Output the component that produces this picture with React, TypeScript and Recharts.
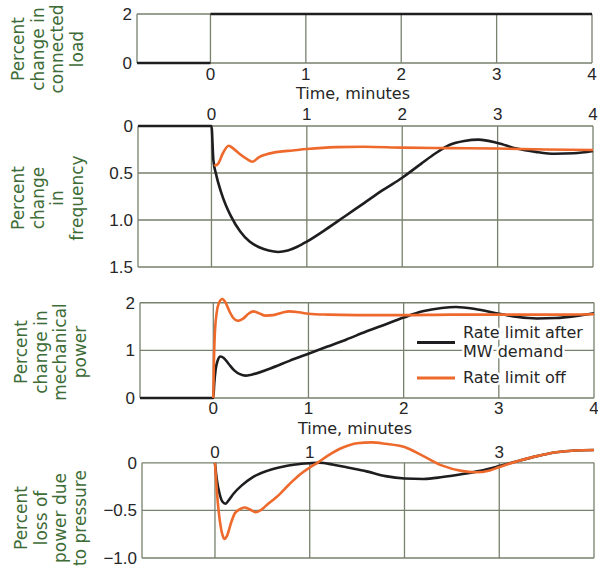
import React from "react";
import { Legend, Line, LineChart, ReferenceLine, XAxis, YAxis } from "recharts";

type Pt = [number, number];

// time axis (minutes)
const startMinute = -0.77;
const endMinute = 4;
const gridMinutes = [0, 1, 2, 3, 4];
const pressureTickMinutes = [0, 1, 3];

// percent change in connected load
const loadTicks = [0, 2];
const loadBefore: Pt[] = [[-0.77, 0], [0, 0]];
const loadAfter: Pt[] = [[0, 2], [4, 2]];

// percent change in frequency (drawn downward)
const freqTicks = [0, 0.5, 1, 1.5];
const freqRateLimited: Pt[] = [
  [-0.77, 0], [0, 0], [0.02, 0.36], [0.05, 0.52], [0.1, 0.7], [0.15, 0.84], [0.2, 0.95],
  [0.3, 1.12], [0.4, 1.23], [0.5, 1.29], [0.6, 1.325], [0.7, 1.34], [0.8, 1.325], [0.9, 1.285],
  [1.0, 1.23], [1.2, 1.1], [1.4, 0.96], [1.6, 0.82], [1.8, 0.68], [2.0, 0.55], [2.2, 0.4],
  [2.35, 0.29], [2.5, 0.2], [2.65, 0.16], [2.8, 0.145], [3.0, 0.18], [3.2, 0.24], [3.4, 0.275],
  [3.6, 0.295], [3.8, 0.29], [4.0, 0.265],
];
const freqRateOff: Pt[] = [
  [0.03, 0.41], [0.045, 0.42], [0.07, 0.4], [0.12, 0.29], [0.18, 0.21], [0.23, 0.24],
  [0.3, 0.3], [0.37, 0.35], [0.43, 0.38], [0.5, 0.33], [0.58, 0.3], [0.7, 0.275], [0.85, 0.26],
  [1.0, 0.245], [1.3, 0.225], [1.6, 0.22], [2.0, 0.23], [2.5, 0.235], [3.0, 0.24], [3.5, 0.25],
  [4.0, 0.255],
];

// percent change in mechanical power
const powerTicks = [0, 1, 2];
const powerRateLimited: Pt[] = [
  [-0.77, 0], [0, 0], [0.01, 0.3], [0.025, 0.6], [0.045, 0.78], [0.075, 0.87], [0.11, 0.84],
  [0.16, 0.72], [0.22, 0.58], [0.28, 0.5], [0.34, 0.47], [0.4, 0.49], [0.6, 0.62], [0.8, 0.78],
  [1.0, 0.93], [1.2, 1.08], [1.4, 1.23], [1.6, 1.39], [1.8, 1.54], [2.0, 1.69], [2.2, 1.82],
  [2.4, 1.89], [2.55, 1.91], [2.75, 1.87], [3.0, 1.77], [3.2, 1.7], [3.4, 1.67], [3.6, 1.68],
  [3.8, 1.72], [4.0, 1.78],
];
const powerRateOff: Pt[] = [
  [0, 0], [0.005, 0.6], [0.015, 1.3], [0.035, 1.78], [0.06, 2.0], [0.095, 2.08], [0.13, 2.0],
  [0.17, 1.82], [0.21, 1.68], [0.26, 1.62], [0.31, 1.66], [0.37, 1.77], [0.42, 1.82],
  [0.48, 1.78], [0.55, 1.73], [0.63, 1.74], [0.72, 1.79], [0.8, 1.82], [0.9, 1.8], [1.0, 1.77],
  [1.2, 1.75], [1.5, 1.74], [2.0, 1.74], [2.5, 1.75], [3.0, 1.75], [3.5, 1.75], [4.0, 1.76],
];

// percent loss of power due to pressure
const pressureTicks = [0, -0.5, -1];
const pressureRateLimited: Pt[] = [
  [0, 0], [0.02, -0.18], [0.05, -0.33], [0.08, -0.41], [0.11, -0.43], [0.14, -0.4], [0.2, -0.32],
  [0.28, -0.24], [0.4, -0.15], [0.55, -0.085], [0.7, -0.045], [0.85, -0.018], [1.0, -0.005],
  [1.1, 0], [1.25, -0.02], [1.4, -0.05], [1.6, -0.09], [1.8, -0.14], [2.0, -0.165], [2.2, -0.17],
  [2.4, -0.15], [2.6, -0.12], [2.8, -0.085], [3.0, -0.035], [3.2, 0.02], [3.4, 0.07],
  [3.6, 0.11], [3.8, 0.13], [4.0, 0.135],
];
const pressureRateOff: Pt[] = [
  [0, 0], [0.02, -0.3], [0.05, -0.6], [0.08, -0.76], [0.1, -0.8], [0.13, -0.76], [0.17, -0.63],
  [0.21, -0.53], [0.26, -0.49], [0.31, -0.47], [0.37, -0.49], [0.43, -0.52], [0.48, -0.5],
  [0.55, -0.44], [0.65, -0.36], [0.78, -0.23], [0.9, -0.12], [1.0, -0.05], [1.08, 0],
  [1.2, 0.08], [1.35, 0.16], [1.5, 0.205], [1.65, 0.215], [1.8, 0.2], [2.0, 0.165], [2.2, 0.07],
  [2.4, -0.03], [2.6, -0.085], [2.75, -0.1], [2.9, -0.08], [3.0, -0.045], [3.2, 0.02],
  [3.4, 0.07], [3.6, 0.11], [3.8, 0.13], [4.0, 0.135],
];

const seriesNames = ["Rate limit after MW demand", "Rate limit off"];
const timeCaption = "Time, minutes";
const loadTitle = ["Percent", "change in", "connected", "load"];
const freqTitle = ["Percent", "change", "in", "frequency"];
const powerTitle = ["Percent", "change in", "mechanical", "power"];
const pressureTitle = ["Percent", "loss of", "power due", "to pressure"];

const BLACK = "#1e1d20";
const ORANGE = "#ee6a2c";
const GRID = "#77816c";
const TITLE = "#3e6c37";
const INK = "#262626";
const numFont = "Liberation Sans, Arial, sans-serif";
const textFont = "DejaVu Sans, sans-serif";

const toRows = (pts: Pt[]) => pts.map(([t, v]) => ({ t, v }));

function MinuteTick(props: any) {
  const { x, payload, baseline } = props;
  return (
    <text x={x} y={baseline} textAnchor="middle" fill={INK} fontSize={17} fontFamily={numFont}>
      {payload.value}
    </text>
  );
}

function AxisTitle({ lines, centerX, centerY }: any) {
  return (
    <text
      transform={`rotate(-90 ${centerX} ${centerY})`}
      fill={TITLE}
      fontSize={17}
      fontFamily={textFont}
      textAnchor="middle"
    >
      {lines.map((line: string, i: number) => (
        <tspan key={i} x={centerX} y={centerY + 6 + i * 19.5}>
          {line}
        </tspan>
      ))}
    </text>
  );
}

function Caption({ text, centerX, baseline }: any) {
  return (
    <text x={centerX} y={baseline} textAnchor="middle" fill={INK} fontSize={16} fontFamily={textFont}>
      {text}
    </text>
  );
}

function wrapName(name: string) {
  if (name.length <= 16) return [name];
  const cut = name.lastIndexOf(" ", 17);
  return [name.slice(0, cut), name.slice(cut + 1)];
}

function LegendBox({ payload }: any) {
  let rowTop = 0;
  const items = (payload || []).map((item: any, i: number) => {
    const lines = wrapName(String(item.value));
    const top = rowTop;
    rowTop += lines.length * 19 + 7;
    const swatchY = top + 8 + ((lines.length - 1) * 19) / 2;
    return (
      <g key={i}>
        <line x1={0} x2={38} y1={swatchY} y2={swatchY} stroke={item.color} strokeWidth={3} />
        {lines.map((line, k) => (
          <text
            key={k}
            x={46}
            y={top + 13 + k * 19}
            fill={INK}
            fontSize={16}
            fontFamily={textFont}
            stroke="#fff"
            strokeWidth={5}
            paintOrder="stroke"
          >
            {line}
          </text>
        ))}
      </g>
    );
  });
  return (
    <svg width={180} height={68} style={{ overflow: "visible", display: "block" }}>
      {items}
    </svg>
  );
}

type Series = { data: Pt[]; color: string; name: string };

function Panel(props: {
  top: number;
  height: number;
  margin: { top: number; right: number; bottom: number; left: number };
  yWidth: number;
  xOrientation: "top" | "bottom";
  xHeight: number;
  tickBaseline: number;
  xTicks: number[];
  yDomain: [number, number];
  yTicks: number[];
  yReversed?: boolean;
  yFormat: (v: number) => string;
  box: [number, number];
  title: string[];
  titleX: number;
  titleY: number;
  caption?: { x: number; baseline: number };
  series: Series[];
  legend?: { left: number; top: number };
}) {
  const p = props;
  const edges = [startMinute, ...gridMinutes];
  return (
    <div style={{ position: "absolute", left: 0, top: p.top }}>
      <LineChart width={598} height={p.height} margin={p.margin}>
        {p.yTicks.map((v) => (
          <ReferenceLine
            key={`h${v}`}
            segment={[
              { x: startMinute, y: v },
              { x: endMinute, y: v },
            ]}
            stroke={GRID}
            strokeWidth={1.3}
            ifOverflow="visible"
          />
        ))}
        {edges.map((m) => (
          <ReferenceLine
            key={`v${m}`}
            segment={[
              { x: m, y: p.box[0] },
              { x: m, y: p.box[1] },
            ]}
            stroke={GRID}
            strokeWidth={1.3}
            ifOverflow="visible"
          />
        ))}
        <XAxis
          type="number"
          dataKey="t"
          domain={[startMinute, endMinute]}
          ticks={p.xTicks}
          orientation={p.xOrientation}
          height={p.xHeight}
          axisLine={false}
          tickLine={false}
          tickSize={0}
          interval={0}
          tick={<MinuteTick baseline={p.tickBaseline} />}
          label={
            p.caption ? (
              <Caption text={timeCaption} centerX={p.caption.x} baseline={p.caption.baseline} />
            ) : undefined
          }
        />
        <YAxis
          type="number"
          domain={p.yDomain}
          ticks={p.yTicks}
          reversed={p.yReversed}
          width={p.yWidth}
          axisLine={false}
          tickLine={false}
          tickSize={0}
          tickMargin={5}
          interval={0}
          tickFormatter={p.yFormat}
          tick={{ fill: INK, fontSize: 17, fontFamily: numFont }}
          label={<AxisTitle lines={p.title} centerX={p.titleX} centerY={p.titleY} />}
        />
        {p.series.map((s, i) => (
          <Line
            key={i}
            data={toRows(s.data)}
            dataKey="v"
            name={s.name}
            type="monotone"
            stroke={s.color}
            strokeWidth={2.6}
            dot={false}
            activeDot={false}
            isAnimationActive={false}
            legendType={p.legend ? "line" : "none"}
          />
        ))}
        {p.legend && (
          <Legend
            layout="vertical"
            align="center"
            verticalAlign="middle"
            content={<LegendBox />}
            wrapperStyle={{ left: p.legend.left, top: p.legend.top, width: 180, height: 68 }}
          />
        )}
      </LineChart>
    </div>
  );
}

const plain = (v: number) => String(v);
const oneDecimal = (v: number) => (v === 0 ? "0" : v.toFixed(1));
const signedDecimal = (v: number) => (v === 0 ? "0" : (v < 0 ? "\u2212" : "") + Math.abs(v).toFixed(1));

export default function App() {
  return (
    <div
      style={{
        position: "absolute",
        left: 0,
        top: 0,
        width: 598,
        height: 568,
        background: "#fff",
        overflow: "hidden",
      }}
    >
      <Panel
        top={0}
        height={105}
        margin={{ top: 14, right: 6, bottom: 5, left: 0 }}
        yWidth={137}
        xOrientation="bottom"
        xHeight={37}
        tickBaseline={80}
        xTicks={gridMinutes}
        yDomain={[0, 2]}
        yTicks={loadTicks}
        yFormat={plain}
        box={[0, 2]}
        title={loadTitle}
        titleX={18}
        titleY={49}
        caption={{ x: 353, baseline: 99 }}
        series={[
          { data: loadBefore, color: BLACK, name: "load before" },
          { data: loadAfter, color: BLACK, name: "load after" },
        ]}
      />
      <Panel
        top={100}
        height={182}
        margin={{ top: 0, right: 5, bottom: 15, left: 0 }}
        yWidth={138}
        xOrientation="top"
        xHeight={26}
        tickBaseline={19.5}
        xTicks={gridMinutes}
        yDomain={[0, 1.5]}
        yTicks={freqTicks}
        yReversed
        yFormat={oneDecimal}
        box={[0, 1.5]}
        title={freqTitle}
        titleX={18}
        titleY={98}
        series={[
          { data: freqRateLimited, color: BLACK, name: seriesNames[0] },
          { data: freqRateOff, color: ORANGE, name: seriesNames[1] },
        ]}
      />
      <Panel
        top={280}
        height={160}
        margin={{ top: 18, right: 4, bottom: 0, left: 0 }}
        yWidth={140}
        xOrientation="bottom"
        xHeight={42}
        tickBaseline={134}
        xTicks={gridMinutes}
        yDomain={[0, 2.1]}
        yTicks={powerTicks}
        yFormat={plain}
        box={[0, 2]}
        title={powerTitle}
        titleX={21}
        titleY={72}
        caption={{ x: 355, baseline: 154 }}
        series={[
          { data: powerRateLimited, color: BLACK, name: seriesNames[0] },
          { data: powerRateOff, color: ORANGE, name: seriesNames[1] },
        ]}
        legend={{ left: 417, top: 45 }}
      />
      <Panel
        top={430}
        height={138}
        margin={{ top: 0, right: 4, bottom: 10, left: 0 }}
        yWidth={142}
        xOrientation="top"
        xHeight={9}
        tickBaseline={28}
        xTicks={pressureTickMinutes}
        yDomain={[-1, 0.25]}
        yTicks={pressureTicks}
        yFormat={signedDecimal}
        box={[-1, 0]}
        title={pressureTitle}
        titleX={21}
        titleY={88}
        series={[
          { data: pressureRateLimited, color: BLACK, name: seriesNames[0] },
          { data: pressureRateOff, color: ORANGE, name: seriesNames[1] },
        ]}
      />
    </div>
  );
}
